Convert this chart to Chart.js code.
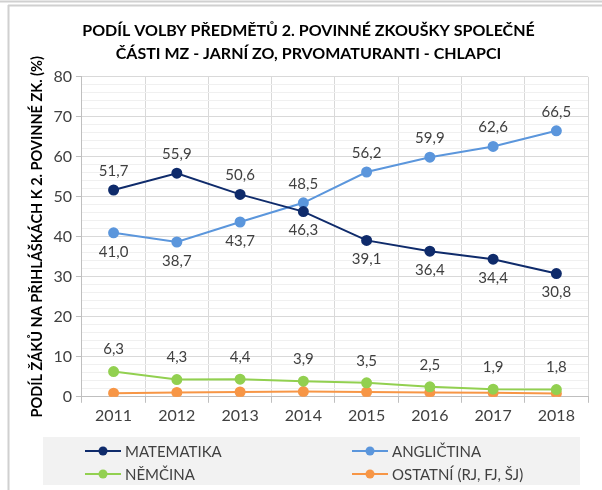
<!DOCTYPE html>
<html>
<head>
<meta charset="utf-8">
<script src="https://cdn.jsdelivr.net/npm/chart.js@4.4.0/dist/chart.umd.min.js"></script>
<style>
  html, body { margin: 0; padding: 0; background: #fff; }
  #wrap { position: relative; width: 602px; height: 490px; }
</style>
</head>
<body>
<div id="wrap"><canvas id="subjectChart" width="602" height="490"></canvas></div>
<script>
const years = ['2011', '2012', '2013', '2014', '2015', '2016', '2017', '2018'];
const matematika = [51.7, 55.9, 50.6, 46.3, 39.1, 36.4, 34.4, 30.8];
const anglictina = [41.0, 38.7, 43.7, 48.5, 56.2, 59.9, 62.6, 66.5];
const nemcina = [6.3, 4.3, 4.4, 3.9, 3.5, 2.5, 1.9, 1.8];
const ostatni = [0.9, 1.1, 1.2, 1.3, 1.2, 1.1, 1.0, 0.8];
const seriesNames = ['MATEMATIKA', 'ANGLIČTINA', 'NĚMČINA', 'OSTATNÍ (RJ, FJ, ŠJ)'];

const FONT = 'Lato, "Open Sans", sans-serif';
const TEXT = '#404040';

const fmt = function (v) {
    return v.toFixed(1).replace('.', ',');
};

// frame round the chart, as in the exported picture
const framePlugin = {
    id: 'frame',
    beforeDraw: function (chart) {
        const c = chart.ctx;
        c.save();
        c.strokeStyle = '#d0d0d0';
        c.lineWidth = 2;
        c.beginPath();
        c.moveTo(0, 1.5); c.lineTo(602, 1.5);
        c.moveTo(8, 5.5); c.lineTo(602, 5.5);
        c.moveTo(8.5, 5); c.lineTo(8.5, 490);
        c.stroke();
        c.restore();
    }
};

const valueLabels = {
    id: 'valueLabels',
    afterDatasetsDraw: function (chart) {
        const c = chart.ctx;
        c.save();
        c.font = '15px ' + FONT;
        c.fillStyle = TEXT;
        c.textAlign = 'center';
        c.textBaseline = 'middle';
        chart.data.datasets.forEach(function (ds, di) {
            if (!ds.labelPlace) return;
            const meta = chart.getDatasetMeta(di);
            meta.data.forEach(function (pt, i) {
                const place = ds.labelPlace[i];
                const dy = place === 'below' ? ds.labelGap : -ds.labelGap;
                c.fillText(fmt(ds.data[i]), pt.x, pt.y + dy);
            });
        });
        c.restore();
    }
};

const boxLegend = {
    id: 'boxLegend',
    afterDraw: function (chart) {
        const c = chart.ctx;
        c.save();
        c.fillStyle = '#f2f2f2';
        c.fillRect(43, 437, 537, 48);
        const colX = [85, 352];
        const rowY = [451, 474];
        c.font = '15px ' + FONT;
        c.textBaseline = 'middle';
        c.textAlign = 'left';
        chart.data.datasets.forEach(function (ds, i) {
            const x = colX[i % 2];
            const y = rowY[Math.floor(i / 2)];
            c.strokeStyle = ds.borderColor;
            c.lineWidth = 2;
            c.beginPath();
            c.moveTo(x, y); c.lineTo(x + 36, y);
            c.stroke();
            c.fillStyle = ds.borderColor;
            c.beginPath();
            c.arc(x + 18, y, 4.5, 0, Math.PI * 2);
            c.fill();
            c.fillStyle = TEXT;
            c.fillText(ds.label, x + 40, y + 1);
        });
        c.restore();
    }
};

const mkSet = function (label, data, color, place, gap) {
    return {
        label: label,
        data: data,
        borderColor: color,
        backgroundColor: color,
        pointBackgroundColor: color,
        pointBorderColor: color,
        borderWidth: 2,
        pointRadius: 4.5,
        pointHoverRadius: 4.5,
        tension: 0,
        fill: false,
        labelPlace: place,
        labelGap: gap
    };
};

const ctx = document.getElementById('subjectChart').getContext('2d');

new Chart(ctx, {
    type: 'line',
    data: {
        labels: years,
        datasets: [
            mkSet(seriesNames[0], matematika, '#0f2b6b',
                ['above', 'above', 'above', 'below', 'below', 'below', 'below', 'below'], 19),
            mkSet(seriesNames[1], anglictina, '#5b96dc',
                ['below', 'below', 'below', 'above', 'above', 'above', 'above', 'above'], 19),
            mkSet(seriesNames[2], nemcina, '#92d050',
                ['above', 'above', 'above', 'above', 'above', 'above', 'above', 'above'], 22),
            mkSet(seriesNames[3], ostatni, '#f79646', null, 0)
        ]
    },
    options: {
        responsive: false,
        animation: false,
        devicePixelRatio: 1,
        layout: {
            padding: { left: 29, right: 14, top: 0, bottom: 62 }
        },
        plugins: {
            legend: { display: false },
            tooltip: { enabled: false },
            title: {
                display: true,
                text: ['PODÍL VOLBY PŘEDMĚTŮ 2. POVINNÉ ZKOUŠKY SPOLEČNÉ',
                       'ČÁSTI MZ - JARNÍ ZO, PRVOMATURANTI - CHLAPCI'],
                color: '#000',
                font: { family: FONT, size: 16, weight: 'bold', lineHeight: 1.4 },
                padding: { top: 20, bottom: 12 }
            }
        },
        scales: {
            x: {
                offset: true,
                grid: {
                    offset: true,
                    color: '#d9d9d9',
                    tickColor: '#bfbfbf',
                    tickLength: 6
                },
                border: { color: '#bfbfbf' },
                ticks: {
                    color: TEXT,
                    font: { family: FONT, size: 16 },
                    padding: 3
                }
            },
            y: {
                min: 0,
                max: 80,
                grid: {
                    color: function (c) {
                        return c.tick.value % 10 === 0 ? '#d9d9d9' : '#f0f0f0';
                    },
                    tickColor: function (c) {
                        return c.tick.value % 10 === 0 ? '#bfbfbf' : 'rgba(0,0,0,0)';
                    },
                    tickLength: 6
                },
                border: { color: '#bfbfbf' },
                ticks: {
                    stepSize: 2,
                    autoSkip: false,
                    color: TEXT,
                    font: { family: FONT, size: 16 },
                    padding: 4,
                    callback: function (v) {
                        return v % 10 === 0 ? v : '';
                    }
                },
                title: {
                    display: true,
                    text: 'PODÍL ŽÁKŮ NA PŘIHLÁŠKÁCH K 2. POVINNÉ ZK. (%)',
                    color: '#000',
                    font: { family: FONT, size: 14.5, weight: 'bold' },
                    padding: { top: 0, bottom: 3 }
                }
            }
        }
    },
    plugins: [framePlugin, valueLabels, boxLegend]
});
</script>
</body>
</html>
